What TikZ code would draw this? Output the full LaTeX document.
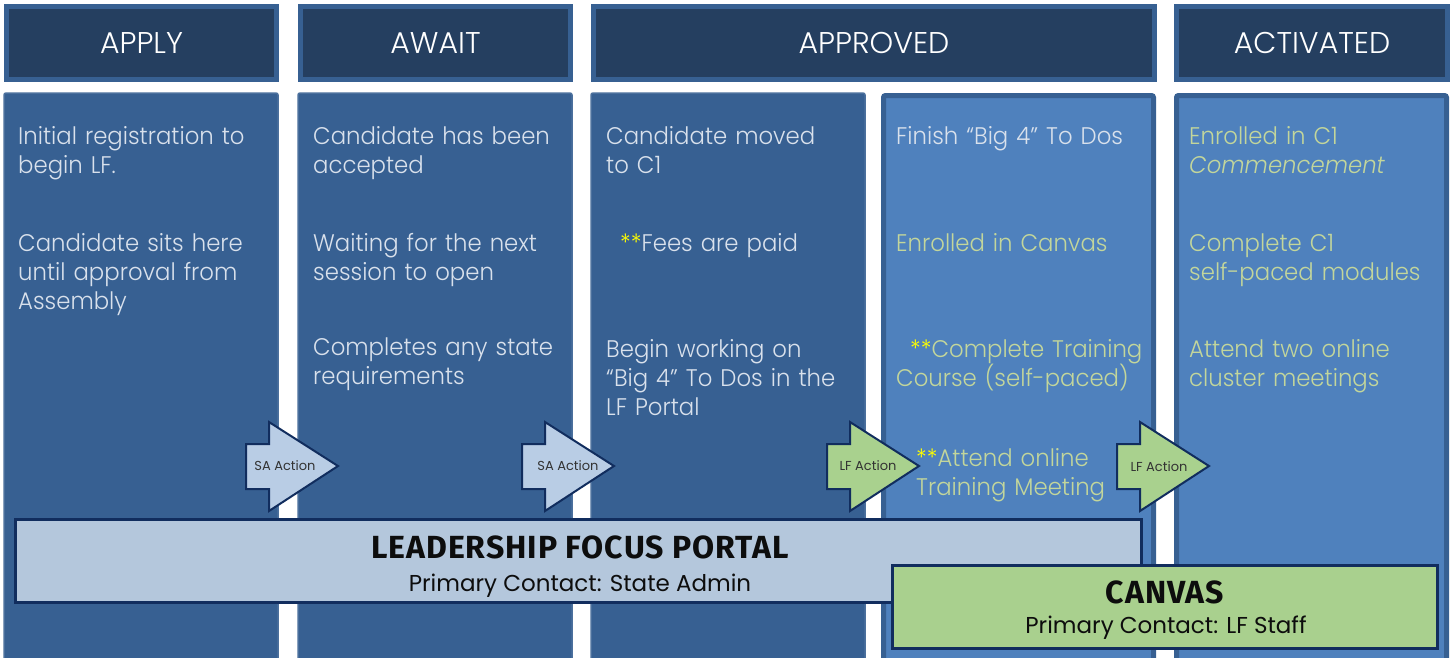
\documentclass[tikz,border=0pt]{standalone}
\usepackage{fontspec}
\setmainfont{Poppins Light}
\newfontfamily\bodyfont{Poppins Light}[FakeStretch=0.95]
\newfontfamily\subfont{Poppins}
\newfontfamily\titlefont{Fira Sans}[LetterSpace=3]
\usetikzlibrary{positioning}
\definecolor{hdrfill}{HTML}{253F60}
\definecolor{colblue}{HTML}{376092}
\definecolor{litblue}{HTML}{4F81BD}
\definecolor{txtlight}{HTML}{D9E1EC}
\definecolor{txtgreen}{HTML}{C3D69B}
\definecolor{starcol}{HTML}{FFFF00}
\definecolor{safill}{HTML}{B9CDE5}
\definecolor{lffill}{HTML}{A9D18E}
\definecolor{navy}{HTML}{112D5E}
\definecolor{portalfill}{HTML}{B4C7DC}
\definecolor{canvasfill}{HTML}{A9D08E}
\tikzstyle{header} = [rectangle,
                    draw=colblue,
                    line width=5pt,
                    fill=hdrfill,
                    minimum height=73pt,
                    inner sep=0pt,
                    outer sep=0pt,
                    text=white,
                    text height=21pt,
                    text depth=0pt,
                    font=\fontsize{30}{36}\selectfont]
\tikzstyle{darkcol} = [rectangle,
                    anchor=north west,
                    rounded corners=2pt,
                    draw=colblue!90!white,
                    line width=1.5pt,
                    fill=colblue,
                    minimum width=274pt,
                    minimum height=580pt,
                    inner sep=0pt,
                    outer sep=0pt]
\tikzstyle{litcol} = [darkcol,
                    draw=colblue,
                    line width=5pt,
                    fill=litblue,
                    minimum width=270pt]
\tikzstyle{body} = [anchor=base west,
                    inner sep=0pt,
                    text width=268pt,
                    align=left,
                    text=txtlight,
                    font=\bodyfont\fontsize{24}{29}\selectfont]
\tikzstyle{green} = [body, text=txtgreen]
\tikzstyle{actarrow} = [draw=navy,
                    line width=2pt,
                    line join=miter]
\tikzstyle{actlabel} = [inner sep=0pt,
                    text=black!80,
                    font=\subfont\fontsize{13}{15}\selectfont]
\tikzstyle{bigbox} = [rectangle,
                    draw=navy,
                    line width=3pt,
                    minimum height=83pt,
                    inner sep=0pt,
                    outer sep=0pt]
\tikzstyle{boxtitle} = [anchor=base,
                    inner sep=0pt,
                    text=black!95,
                    font=\titlefont\bfseries\fontsize{32}{36}\selectfont]
\tikzstyle{boxsub} = [anchor=base,
                    inner sep=0pt,
                    text=black!95,
                    font=\subfont\fontsize{23}{28}\selectfont]
\tikzstyle{board} = [x=1pt,
                    y=-1pt]
\newcommand{\stars}{\textcolor{starcol}{**}}

\begin{document}
\begin{tikzpicture}[board]
    \useasboundingbox (0,0) rectangle (1453,657);
    \node (0) at (4,93) [darkcol] {};
    \node (1) at (298,93) [darkcol] {};
    \node (2) at (591,93) [darkcol] {};
    \node (3) at (883.5,95.5) [litcol] {};
    \node (4) at (1176.5,95.5) [litcol] {};
    \node (5) at (141.5,43) [header, minimum width=270pt] {APPLY};
    \node (6) at (435.5,43) [header, minimum width=270pt] {AWAIT};
    \node (7) at (874,43) [header, minimum width=561pt] {APPROVED};
    \node (8) at (1312,43) [header, minimum width=271pt] {ACTIVATED};
    \node (9) at (18,144) [body] {Initial registration to\\begin LF.};
    \node (10) at (18,251) [body] {Candidate sits here\\until approval from\\Assembly};
    \node (11) at (313,144) [body] {Candidate has been\\accepted};
    \node (12) at (313,251) [body] {Waiting for the next\\session to open};
    \node (13) at (313,355) [body] {Completes any state\\requirements};
    \node (14) at (606,144) [body] {Candidate moved\\to C1};
    \node (15) at (620,251) [body] {\stars Fees are paid};
    \node (16) at (606,357) [body] {Begin working on\\“Big 4” To Dos in the\\LF Portal};
    \node (17) at (896,144) [body] {Finish “Big 4” To Dos};
    \node (18) at (896,251) [green] {Enrolled in Canvas};
    \node (19) at (896,357) [green] {\hspace*{14pt}\stars Complete Training\\Course (self-paced)};
    \node (20) at (916,466) [green] {\stars Attend online\\Training Meeting};
    \node (21) at (1189,144) [green] {Enrolled in C1\\\textit{Commencement}};
    \node (22) at (1189,251) [green] {Complete C1\\self-paced modules};
    \node (23) at (1189,357) [green] {Attend two online\\cluster meetings};
    \coordinate (24) at (246,444);
    \coordinate (25) at (522,444);
    \coordinate (26) at (827,444);
    \coordinate (27) at (1117,444);
    \draw[actarrow, fill=safill] (24) -- ++(23,0) -- ++(0,-22) -- ++(69,44) -- ++(-69,45) -- ++(0,-22) -- ++(-23,0) -- cycle;
    \draw[actarrow, fill=safill] (25) -- ++(23,0) -- ++(0,-22) -- ++(69,44) -- ++(-69,45) -- ++(0,-22) -- ++(-23,0) -- cycle;
    \draw[actarrow, fill=lffill] (26) -- ++(23,0) -- ++(0,-22) -- ++(69,44) -- ++(-69,45) -- ++(0,-22) -- ++(-23,0) -- cycle;
    \draw[actarrow, fill=lffill] (27) -- ++(23,0) -- ++(0,-22) -- ++(69,44) -- ++(-69,45) -- ++(0,-22) -- ++(-23,0) -- cycle;
    \node (28) at (285,466) [actlabel] {SA Action};
    \node (29) at (568,466) [actlabel] {SA Action};
    \node (30) at (868,466) [actlabel] {LF Action};
    \node (31) at (1159,467) [actlabel] {LF Action};
    \node (32) at (578.5,561) [bigbox, fill=portalfill, minimum width=1126pt] {};
    \node (33) at (580,558) [boxtitle] {LEADERSHIP FOCUS PORTAL};
    \node (34) at (580,591) [boxsub] {Primary Contact: State Admin};
    \node (35) at (1165,607) [bigbox, fill=canvasfill, minimum width=545pt] {};
    \node (36) at (1165,603) [boxtitle] {CANVAS};
    \node (37) at (1166,633) [boxsub] {Primary Contact: LF Staff};
\end{tikzpicture}
\end{document}
